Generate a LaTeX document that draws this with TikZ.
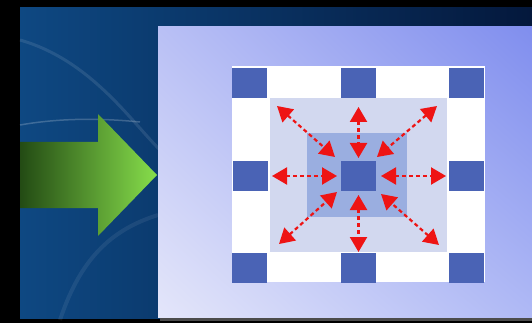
\documentclass[tikz,border=0pt]{standalone}
\usetikzlibrary{arrows.meta,shadings}
\definecolor{tileblue}{HTML}{4A63B5}
\definecolor{haloA}{HTML}{D2D8EF}
\definecolor{haloB}{HTML}{9AAEE0}
\definecolor{spreadred}{HTML}{EE1414}
\definecolor{seaA}{RGB}{14,72,130}
\definecolor{seaB}{RGB}{4,24,60}
\definecolor{leafA}{RGB}{35,75,20}
\definecolor{leafB}{RGB}{135,222,75}
\definecolor{paneLL}{RGB}{228,230,250}
\definecolor{paneUL}{RGB}{185,192,245}
\definecolor{paneUR}{RGB}{128,142,238}
\definecolor{paneLR}{RGB}{175,185,245}
\tikzset{
  tile/.style={rectangle, fill=tileblue, minimum width=35pt, minimum height=30pt, inner sep=0pt},
  spread/.style={spreadred, line width=2.2pt, dash pattern=on 4pt off 3pt,
    {Triangle[length=15pt,width=17pt]}-{Triangle[length=15pt,width=17pt]}}
}
\begin{document}
\begin{tikzpicture}[x=1pt,y=-1pt]
	  \useasboundingbox (0,0) rectangle (532,323);
	  \fill[black] (0,0) rectangle (532,323);
	  % backdrop
	  \shade[left color=seaA, right color=seaB] (20,8) rectangle (532,318);
	  \draw[white, opacity=0.1, line width=3pt] (20,40) .. controls (90,60) and (130,120) .. (160,150);
	  \draw[white, opacity=0.2, line width=1.5pt] (20,125) .. controls (60,118) and (100,118) .. (140,122);
	  \draw[white, opacity=0.07, line width=4pt] (60,320) .. controls (80,260) and (110,230) .. (158,215);
	  % green arrow
	  \shade[left color=leafA, right color=leafB]
	    (20,142) -- (98,142) -- (98,114) -- (157,175) -- (98,236) -- (98,208) -- (20,208) -- cycle;
	  % panel
	  \fill[black!70] (160,30) rectangle (532,321);
	  \shade[lower left=paneLL, upper left=paneUL, upper right=paneUR, lower right=paneLR]
	    (158,27) rectangle (532,317);
	  % grid
	  \fill[white] (232,66) rectangle (485,282);
	  \fill[haloA] (270,98) rectangle (447,252);
	  \fill[haloB] (307,133) rectangle (407,217);
	  \node[tile] (nw) at (249.5,83) {};
	  \node[tile] (n) at (358.5,83) {};
	  \node[tile] (ne) at (466,83) {};
	  \node[tile] (w) at (250.5,176) {};
	  \node[tile] (core) at (358.5,176) {};
	  \node[tile] (e) at (466,176) {};
	  \node[tile] (sw) at (249.5,268) {};
	  \node[tile] (s) at (358.5,268) {};
	  \node[tile] (se) at (466,268) {};
	  % spreading arrows
	  \coordinate (up1) at (358.5,107);
	  \coordinate (up2) at (358.5,158);
	  \coordinate (dn1) at (358.5,195);
	  \coordinate (dn2) at (358.5,252);
	  \coordinate (lt1) at (272,176);
	  \coordinate (lt2) at (337,176);
	  \coordinate (rt1) at (381,176);
	  \coordinate (rt2) at (446,176);
	  \coordinate (ul1) at (277,106);
	  \coordinate (ul2) at (335,157);
	  \coordinate (ur1) at (437,106);
	  \coordinate (ur2) at (377,157);
	  \coordinate (ll1) at (279,244);
	  \coordinate (ll2) at (337,192);
	  \coordinate (lr1) at (439,245);
	  \coordinate (lr2) at (381,194);
	  
	  \draw[spread] (up1) -- (up2);
	  \draw[spread] (dn1) -- (dn2);
	  \draw[spread] (lt1) -- (lt2);
	  \draw[spread] (rt1) -- (rt2);
	  \draw[spread] (ul1) -- (ul2);
	  \draw[spread] (ur1) -- (ur2);
	  \draw[spread] (ll1) -- (ll2);
	  \draw[spread] (lr1) -- (lr2);
	\end{tikzpicture}
\end{document}
